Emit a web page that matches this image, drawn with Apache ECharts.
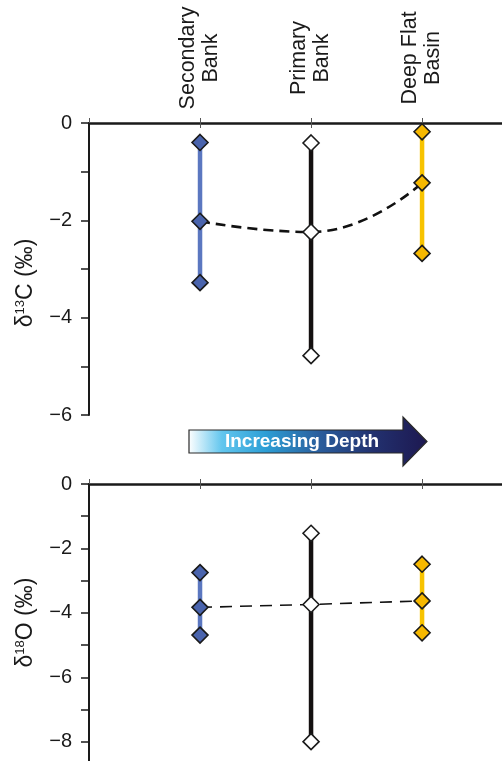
<!DOCTYPE html>
<html>
<head>
<meta charset="utf-8">
<script src="https://cdn.jsdelivr.net/npm/echarts@6/dist/echarts.min.js"></script>
<style>
  html, body { margin: 0; padding: 0; background: #fff; }
  #chart { width: 502px; height: 761px; }
</style>
</head>
<body>
<div id="chart"></div>
<script>
// Sites along the depth transect (x positions 1, 2, 3)
const sites = ['Secondary\nBank', 'Primary\nBank', 'Deep Flat\nBasin'];
const sitePos = [1, 2, 3];

// δ13C (‰): range top, mean, range bottom per site
const c13Max  = [-0.40, -0.41, -0.18];
const c13Mean = [-2.02, -2.24, -1.23];
const c13Min  = [-3.28, -4.78, -2.68];

// δ18O (‰): range top, mean, range bottom per site
const o18Max  = [-2.75, -1.53, -2.49];
const o18Mean = [-3.83, -3.74, -3.63];
const o18Min  = [-4.69, -8.00, -4.62];

// Tick values
const c13Ticks = [0, -1, -2, -3, -4, -5, -6];
const c13Labels = [0, -2, -4, -6];
const o18Ticks = [0, -1, -2, -3, -4, -5, -6, -7, -8];
const o18Labels = [0, -2, -4, -6, -8];

const siteLine = ['#5b77c0', '#141010', '#f7c300'];
const siteFill = ['#4a64ad', '#ffffff', '#f6b800'];

const FONT = '"Liberation Sans", Arial, Helvetica, sans-serif';
const minus = v => (v < 0 ? '\u2212' + Math.abs(v) : String(v));

function xAxesFor(gridIndex, withLabels) {
  const base = {
    type: 'value', gridIndex, position: 'top', min: 0, max: 3.72,
    splitLine: { show: false }
  };
  return [
    Object.assign({}, base, {
      axisLine: { show: true, lineStyle: { color: '#1a1a1a', width: 2.5 } },
      axisTick: { show: true, customValues: [0, 1, 2, 3], length: 5, inside: false,
                  lineStyle: { color: '#555', width: 1 } },
      axisLabel: withLabels ? {
        show: true, customValues: sitePos, rotate: 90,
        formatter: v => sites[Math.round(v) - 1] || '',
        align: 'center', verticalAlign: 'middle', margin: 65,
        fontFamily: FONT, fontSize: 21.5, lineHeight: 23, color: '#1a1a1a'
      } : { show: false }
    }),
    Object.assign({}, base, {
      axisLine: { show: false },
      axisTick: { show: true, customValues: [1, 2, 3], length: 5, inside: true,
                  lineStyle: { color: '#555', width: 1 } },
      axisLabel: { show: false }
    })
  ];
}

function yAxisFor(gridIndex, min, ticks, labels, nameMain, sup, shift) {
  return {
    type: 'value', gridIndex, min, max: 0,
    name: '{m|δ}{s|' + sup + '}{m|' + nameMain + '}',
    nameLocation: 'middle', nameGap: 52, nameRotate: 90,
    nameTextStyle: {
      padding: [0, shift, 0, 0],
      rich: {
        m: { fontFamily: FONT, fontSize: 23, color: '#1a1a1a' },
        s: { fontFamily: FONT, fontSize: 13, color: '#1a1a1a', verticalAlign: 'top', padding: [0, 0, 9, 0] }
      }
    },
    axisLine: { show: true, onZero: false, lineStyle: { color: '#1a1a1a', width: 2 } },
    axisTick: { show: true, customValues: ticks, length: 8, lineStyle: { color: '#1a1a1a', width: 1.5 } },
    axisLabel: { show: true, customValues: labels, formatter: minus, margin: 17,
                 fontFamily: FONT, fontSize: 20, color: '#1a1a1a' },
    splitLine: { show: false }
  };
}

function panelSeries(xi, yi, maxArr, meanArr, minArr, dash, smooth) {
  const out = [];
  // mean trend line
  out.push({
    type: 'line', xAxisIndex: xi, yAxisIndex: yi, smooth,
    data: sitePos.map((x, i) => [x, meanArr[i]]),
    symbol: 'none', z: 2,
    lineStyle: { color: '#111', width: dash.width, type: dash.pattern }
  });
  sitePos.forEach((x, i) => {
    // range bar
    out.push({
      type: 'line', xAxisIndex: xi, yAxisIndex: yi,
      data: [[x, maxArr[i]], [x, minArr[i]]],
      symbol: 'none', z: 3,
      lineStyle: { color: siteLine[i], width: 4.5 }
    });
    // max / mean / min markers
    out.push({
      type: 'scatter', xAxisIndex: xi, yAxisIndex: yi,
      data: [[x, maxArr[i]], [x, meanArr[i]], [x, minArr[i]]],
      symbol: 'diamond', symbolSize: [16, 16], z: 4,
      itemStyle: { color: siteFill[i], borderColor: '#1a1a1a', borderWidth: 1.6, opacity: 1 }
    });
  });
  return out;
}

const chart = echarts.init(document.getElementById('chart'), null, { renderer: 'canvas' });

chart.setOption({
  animation: false,
  backgroundColor: '#ffffff',
  grid: [
    { left: 89, top: 123, width: 413, height: 292 },
    { left: 89, top: 484, width: 413, height: 277 }
  ],
  xAxis: [].concat(xAxesFor(0, true), xAxesFor(1, false)),
  yAxis: [
    yAxisFor(0, -6, c13Ticks, c13Labels, 'C (‰)', '13', 28),
    yAxisFor(1, -8.6, o18Ticks, o18Labels, 'O (‰)', '18', 0)
  ],
  series: [].concat(
    panelSeries(0, 0, c13Max, c13Mean, c13Min, { width: 2.6, pattern: [10, 6] }, 0.5),
    panelSeries(2, 1, o18Max, o18Mean, o18Min, { width: 1.6, pattern: [12, 8] }, false)
  ),
  graphic: [
    {
      type: 'polygon', z: 10,
      shape: { points: [[189, 430], [403, 430], [403, 417], [427, 441.5], [403, 466], [403, 453], [189, 453]] },
      style: {
        fill: new echarts.graphic.LinearGradient(0, 0, 1, 0, [
          { offset: 0, color: '#ffffff' },
          { offset: 0.14, color: '#62c6ee' },
          { offset: 0.32, color: '#2d9fd6' },
          { offset: 0.55, color: '#2a5d9c' },
          { offset: 0.78, color: '#22306e' },
          { offset: 1, color: '#1d1850' }
        ]),
        stroke: '#2a2a2a', lineWidth: 1.2
      }
    },
    {
      type: 'text', z: 11, x: 302, y: 442,
      style: {
        text: 'Increasing Depth', fill: '#ffffff',
        font: 'bold 19px ' + FONT, textAlign: 'center', textVerticalAlign: 'middle'
      }
    }
  ]
});
</script>
</body>
</html>
